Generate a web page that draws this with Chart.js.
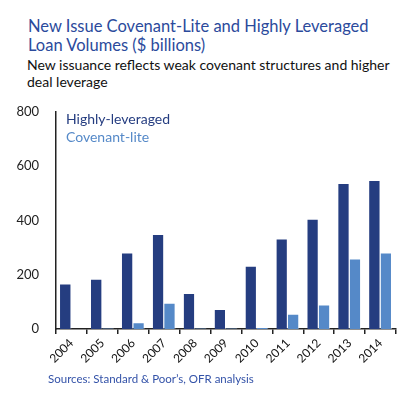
<!DOCTYPE html>
<html>
<head>
<meta charset="utf-8">
<script src="https://cdn.jsdelivr.net/npm/chart.js@4"></script>
<style>
  body { margin: 0; background: #fff; font-family: Lato, "Open Sans", sans-serif; }
  #wrap { position: relative; width: 403px; height: 399px; overflow: hidden; }
  .title { position: absolute; left: 28px; top: 17px; color: #2b4a9c; font-size: 16.5px; line-height: 19px; }
  .sub { position: absolute; left: 27px; top: 56px; color: #111; font-size: 14px; line-height: 17px; }
  .src { position: absolute; left: 48px; top: 372px; color: #3352a8; font-size: 11.5px; }
  #box { position: absolute; left: 0; top: 95px; width: 403px; height: 280px; }
</style>
</head>
<body>
<div id="wrap">
  <div class="title">New Issue Covenant-Lite and Highly Leveraged<br>Loan Volumes ($ billions)</div>
  <div class="sub">New issuance reflects weak covenant structures and higher<br>deal leverage</div>
  <div id="box"><canvas id="myChart"></canvas></div>
  <div class="src">Sources: Standard &amp; Poor’s, OFR analysis</div>
</div>
<script>
var years = ['2004', '2005', '2006', '2007', '2008', '2009', '2010', '2011', '2012', '2013', '2014'];
var highlyLeveraged = [168, 185, 282, 350, 133, 74, 233, 333, 406, 538, 549];
var covenantLite = [0, 3, 25, 97, 3, 3, 7, 56, 90, 260, 282];
var yTicks = [0, 200, 400, 600, 800];

// legend text drawn inside the plot, top left
var legendText = {
    id: 'legendText',
    afterDraw: function (chart) {
        var ctx = chart.ctx;
        var a = chart.chartArea;
        ctx.save();
        ctx.font = '14px Lato, "Open Sans", sans-serif';
        ctx.textBaseline = 'alphabetic';
        ctx.textAlign = 'left';
        chart.data.datasets.forEach(function (ds, i) {
            ctx.fillStyle = ds.backgroundColor;
            ctx.fillText(ds.label, a.left + 10, a.top + 12 + i * 18);
        });
        ctx.restore();
    }
};

var ctx = document.getElementById('myChart').getContext('2d');
var myChart = new Chart(ctx, {
    type: 'bar',
    data: {
        labels: years,
        datasets: [{
            label: 'Highly-leveraged',
            data: highlyLeveraged,
            backgroundColor: '#253d80',
            borderColor: 'rgba(255,255,255,0.45)',
            borderWidth: { top: 1, right: 1, left: 0, bottom: 0 },
            categoryPercentage: 0.74,
            barPercentage: 1
        }, {
            label: 'Covenant-lite',
            data: covenantLite,
            backgroundColor: '#5589c8',
            borderColor: 'rgba(255,255,255,0.45)',
            borderWidth: { top: 1, right: 1, left: 0, bottom: 0 },
            categoryPercentage: 0.74,
            barPercentage: 1
        }]
    },
    plugins: [legendText],
    options: {
        responsive: true,
        maintainAspectRatio: false,
        animation: false,
        layout: { padding: { left: 0, right: 7, top: 12, bottom: 0 } },
        plugins: {
            legend: { display: false },
            tooltip: { enabled: false }
        },
        scales: {
            x: {
                grid: { display: true, drawOnChartArea: false, offset: true, tickLength: 5, color: '#222', lineWidth: 1.5 },
                border: { display: true, color: '#222', width: 1.5 },
                ticks: {
                    color: '#111',
                    font: { size: 12, family: 'Lato, "Open Sans", sans-serif' },
                    minRotation: 45,
                    maxRotation: 45,
                    padding: 2
                },
                afterFit: function (s) { s.height = 46; }
            },
            y: {
                min: 0,
                max: 800,
                grid: { display: false },
                border: { display: true, color: '#222', width: 1.5 },
                afterBuildTicks: function (s) { s.ticks = yTicks.map(function (v) { return { value: v }; }); },
                ticks: {
                    color: '#222',
                    font: { size: 13, family: 'Lato, "Open Sans", sans-serif' },
                    padding: 9
                },
                afterFit: function (s) { s.width = 56; }
            }
        }
    }
});
</script>
</body>
</html>
